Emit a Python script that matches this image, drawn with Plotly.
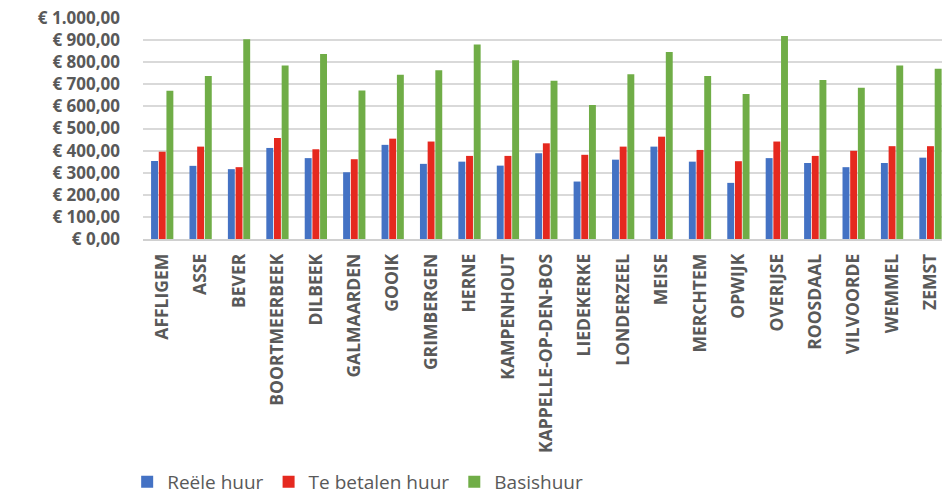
import plotly.graph_objects as go

# Gemeenten en huurbedragen (euro per maand)
gemeenten = [
    "AFFLIGEM", "ASSE", "BEVER", "BOORTMEERBEEK", "DILBEEK", "GALMAARDEN",
    "GOOIK", "GRIMBERGEN", "HERNE", "KAMPENHOUT", "KAPPELLE-OP-DEN-BOS",
    "LIEDEKERKE", "LONDERZEEL", "MEISE", "MERCHTEM", "OPWIJK", "OVERIJSE",
    "ROOSDAAL", "VILVOORDE", "WEMMEL", "ZEMST",
]
reele_huur = [353, 331, 316, 412, 366, 302, 426, 340, 350, 332, 388,
              260, 359, 418, 350, 254, 366, 344, 325, 344, 368]
te_betalen_huur = [395, 418, 325, 457, 406, 361, 454, 441, 376, 376, 433,
                   381, 418, 463, 403, 352, 441, 376, 399, 420, 420]
basishuur = [671, 737, 904, 785, 837, 672, 743, 764, 880, 809, 716,
             606, 745, 846, 737, 656, 919, 720, 684, 785, 770]

y_ticks = list(range(0, 1001, 100))


def euro(v):
    s = f"{v:,.2f}".replace(",", "X").replace(".", ",").replace("X", ".")
    return "€ " + s


series = [
    ("Reële huur", reele_huur, "#4472C4"),
    ("Te betalen huur", te_betalen_huur, "#E5291F"),
    ("Basishuur", basishuur, "#70AD47"),
]

fig = go.Figure()
for name, vals, col in series:
    fig.add_trace(go.Bar(
        x=gemeenten, y=vals, name=name,
        marker=dict(color=col, line=dict(width=0)),
    ))

txt = "#595959"
fig.update_layout(
    width=942, height=501,
    margin=dict(l=143, r=0, t=18, b=262, autoexpand=False),
    paper_bgcolor="white", plot_bgcolor="white",
    barmode="group", bargap=0.40, bargroupgap=0.1,
    font=dict(family="Open Sans", color=txt),
    showlegend=True,
    legend=dict(
        orientation="h", x=0.135, xanchor="left", xref="container",
        yref="container", y=-0.012, yanchor="bottom",
        font=dict(size=19, color=txt), itemwidth=30,
        traceorder="normal",
    ),
    xaxis=dict(
        type="category", range=[-0.5, 20.3], automargin=False,
        tickangle=-90, tickfont=dict(size=17.5, color=txt, weight="bold"),
        showline=True, linecolor="#d0d0d0", linewidth=1.5,
        showgrid=False, ticks="", ticklabelstandoff=6,
    ),
    yaxis=dict(
        range=[0, 1000], tickvals=y_ticks, automargin=False,
        ticktext=[euro(v) for v in y_ticks],
        tickfont=dict(size=17, color=txt, weight="bold"),
        showgrid=True, gridcolor="#d9d9d9", gridwidth=1.5,
        zeroline=False, showline=False, ticks="",
        ticklabelstandoff=22,
    ),
)

fig.write_html("out.html")
